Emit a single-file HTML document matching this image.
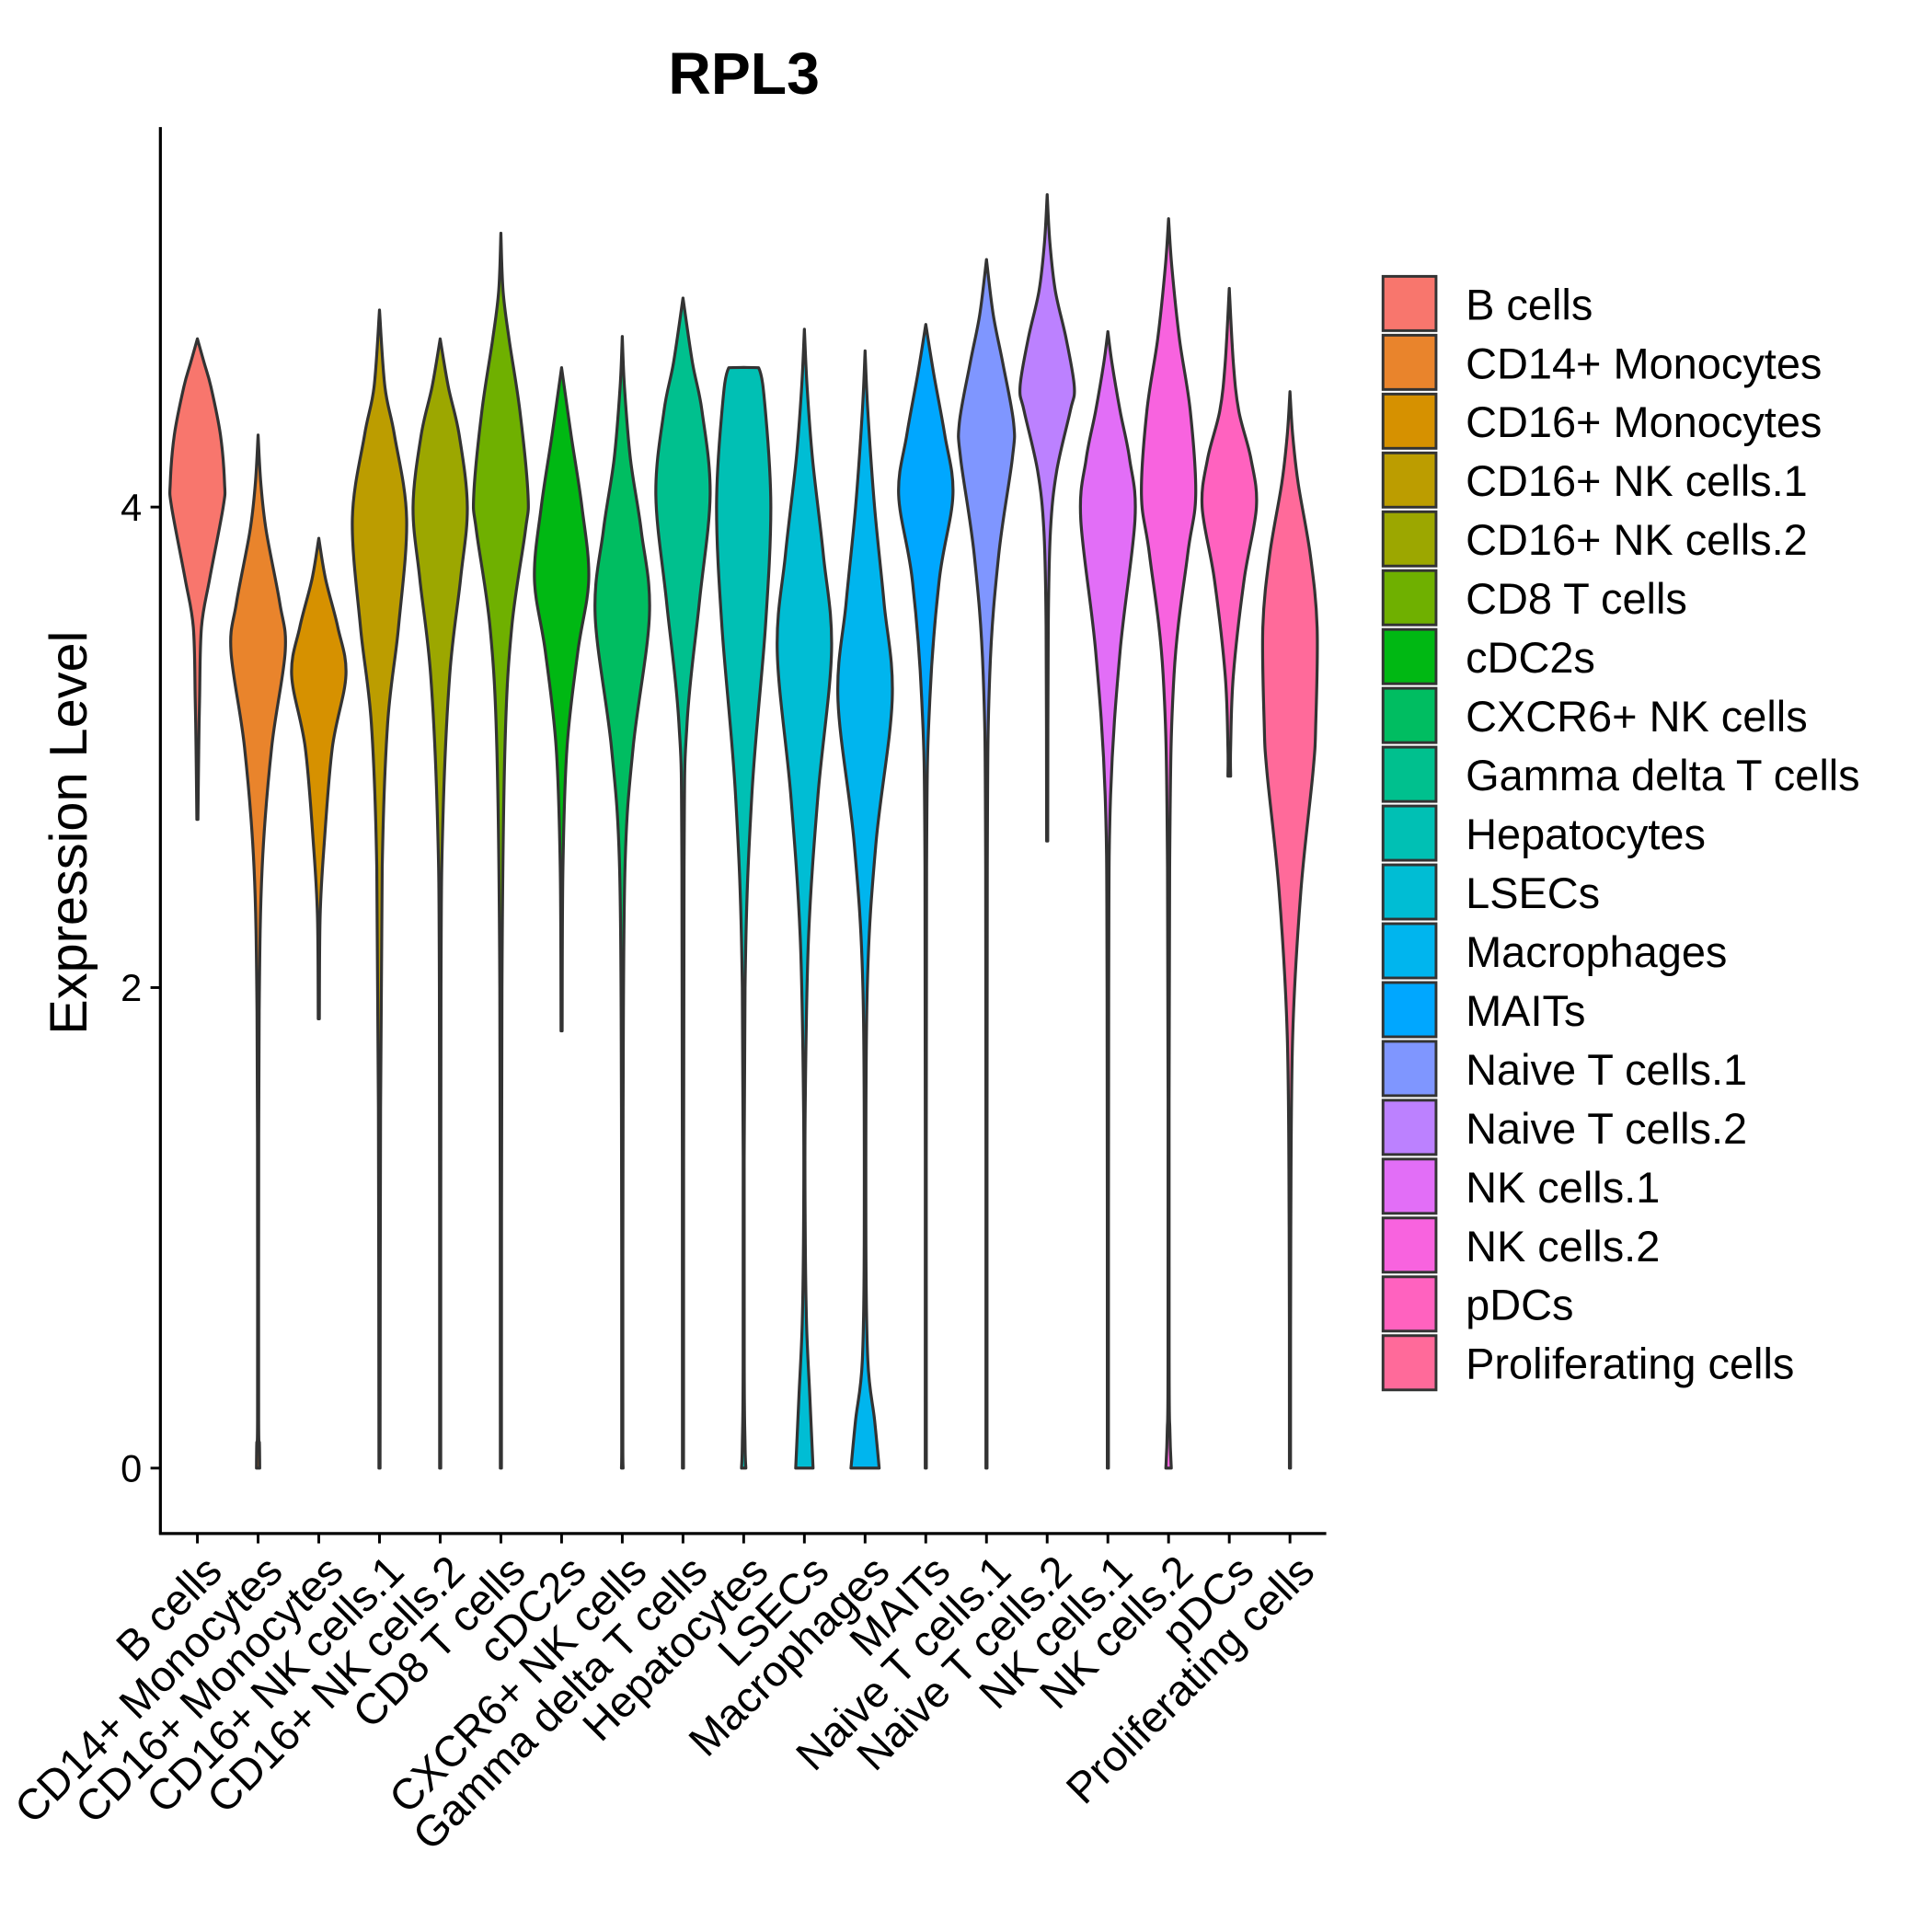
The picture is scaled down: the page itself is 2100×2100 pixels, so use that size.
<!DOCTYPE html>
<html><head><meta charset="utf-8"><style>html,body{margin:0;padding:0;background:#fff}svg{display:block}text{font-family:"Liberation Sans",Arial,sans-serif}</style></head>
<body>
<svg id="chart" width="2100" height="2100" viewBox="0 0 1566 1566" xmlns="http://www.w3.org/2000/svg">
<text x="603" y="76" font-size="48" font-weight="bold" text-anchor="middle">RPL3</text>
<text transform="translate(70,675) rotate(-90)" font-size="43" text-anchor="middle">Expression Level</text>
<g id="plot"></g>
<g id="legend"></g>
</svg>
<script>
const categories = ["B cells","CD14+ Monocytes","CD16+ Monocytes","CD16+ NK cells.1","CD16+ NK cells.2","CD8 T cells","cDC2s","CXCR6+ NK cells","Gamma delta T cells","Hepatocytes","LSECs","Macrophages","MAITs","Naive T cells.1","Naive T cells.2","NK cells.1","NK cells.2","pDCs","Proliferating cells"];
const colors = ["#F8766D","#E9842C","#D69100","#BC9D00","#9CA700","#6FB000","#00B813","#00BD61","#00C08E","#00C0B4","#00BDD4","#00B5EE","#00A7FF","#7F96FF","#BC81FF","#E26EF7","#F863DF","#FF62BF","#FF6A9A"];
const yTicks = [0,2,4];
// density profiles: [value, relative half-width]
const pB = [[2.7,0.02],[3.0,0.05],[3.2,0.08],[3.5,0.15],[3.7,0.45],[4.0,0.95],[4.1,1.0],[4.3,0.85],[4.5,0.5],[4.6,0.25],[4.7,0]];
const pCD14 = [[0,0.06],[0.1,0.05],[0.2,0.02],[1.0,0.02],[1.9,0.04],[2.5,0.15],[3.0,0.5],[3.4,1.0],[3.6,0.8],[3.9,0.3],[4.1,0.1],[4.3,0]];
const pCD16M = [[1.87,0.02],[2.3,0.05],[2.6,0.2],[3.0,0.5],[3.3,1.0],[3.5,0.7],[3.7,0.25],[3.87,0]];
const pNK1a = [[0,0.02],[1.5,0.04],[2.5,0.1],[3.1,0.3],[3.5,0.7],[3.95,1.0],[4.3,0.55],[4.5,0.2],[4.82,0]];
const pNK2a = [[0,0.02],[2.0,0.03],[2.7,0.1],[3.3,0.35],[3.7,0.75],[4.0,1.0],[4.3,0.7],[4.5,0.3],[4.7,0]];
const pCD8 = [[0,0.02],[2.0,0.04],[3.0,0.15],[3.5,0.4],[3.9,0.9],[4.05,1.0],[4.4,0.7],[4.7,0.3],[4.9,0.08],[5.14,0]];
const pDC2 = [[1.82,0.02],[2.5,0.05],[3.0,0.2],[3.4,0.6],[3.7,1.0],[4.0,0.75],[4.3,0.35],[4.58,0]];
const pCXCR6 = [[0,0.03],[0.1,0.02],[1.5,0.03],[2.5,0.1],[3.0,0.4],[3.55,1.0],[3.9,0.7],[4.2,0.3],[4.5,0.08],[4.71,0]];
const pGD = [[0,0.02],[2.5,0.04],[3.1,0.15],[3.6,0.6],[4.05,1.0],[4.4,0.7],[4.6,0.35],[4.87,0]];
const pHep = [[0,0.08],[0.1,0.05],[0.5,0.02],[2.0,0.05],[2.8,0.3],[3.5,0.8],[4.0,1.0],[4.4,0.8],[4.58,0.55],[4.581,0]];
const pLSEC = [[0,0.32],[0.3,0.2],[0.6,0.08],[1.0,0.03],[1.5,0.03],[2.2,0.15],[2.8,0.5],[3.4,1.0],[3.8,0.7],[4.2,0.3],[4.5,0.1],[4.74,0]];
const pMac = [[0,0.52],[0.2,0.35],[0.45,0.1],[1.0,0.03],[2.0,0.08],[2.6,0.4],[3.2,1.0],[3.6,0.7],[4.0,0.35],[4.4,0.1],[4.65,0]];
const pMAIT = [[0,0.02],[2.5,0.03],[3.2,0.15],[3.7,0.5],[4.05,1.0],[4.3,0.7],[4.55,0.3],[4.76,0]];
const pNT1 = [[0,0.02],[2.5,0.03],[3.3,0.12],[3.8,0.45],[4.2,0.95],[4.35,1.0],[4.6,0.6],[4.8,0.25],[5.03,0]];
const pNT2 = [[2.61,0.02],[3.5,0.04],[3.9,0.12],[4.15,0.35],[4.4,0.85],[4.5,1.0],[4.7,0.7],[4.9,0.3],[5.1,0.1],[5.3,0]];
const pNK1 = [[0,0.02],[2.0,0.03],[2.8,0.1],[3.4,0.45],[3.95,1.0],[4.2,0.8],[4.4,0.45],[4.6,0.15],[4.73,0]];
const pNK2 = [[0,0.1],[0.15,0.05],[0.5,0.02],[2.5,0.04],[3.3,0.2],[3.8,0.7],[4.05,1.0],[4.4,0.8],[4.7,0.4],[5.0,0.12],[5.2,0]];
const pPDC = [[2.88,0.05],[3.0,0.05],[3.3,0.15],[3.7,0.55],[4.0,1.0],[4.2,0.8],[4.4,0.35],[4.6,0.15],[4.91,0]];
const pProl = [[0,0.02],[1.0,0.03],[1.8,0.1],[2.4,0.4],[2.9,0.85],[3.1,0.95],[3.5,1.0],[3.8,0.75],[4.1,0.3],[4.3,0.1],[4.48,0]];
const profiles = [pB,pCD14,pCD16M,pNK1a,pNK2a,pCD8,pDC2,pCXCR6,pGD,pHep,pLSEC,pMac,pMAIT,pNT1,pNT2,pNK1,pNK2,pPDC,pProl];

const NS="http://www.w3.org/2000/svg";
const X0=130, X1=1075, Y0=103, Y1=1243;
function xScale(i){return 160+i*49.2;}
function yScale(v){return 1190-v*194.75;}
const HALF=22;
const plot=document.getElementById('plot');
function mk(tag,attrs,parent){const e=document.createElementNS(NS,tag);for(const k in attrs)e.setAttribute(k,attrs[k]);(parent||plot).appendChild(e);return e;}

categories.forEach((c,i)=>{
  const prof=profiles[i], cx=xScale(i);
  const yMin=yScale(prof[prof.length-1][0]), yMax=yScale(prof[0][0]);
  const cl=y=>Math.min(yMax,Math.max(yMin,y));
  const right=prof.map(p=>[cx+p[1]*HALF,yScale(p[0])]);
  const left=prof.slice().reverse().map(p=>[cx-p[1]*HALF,yScale(p[0])]);
  function sm(pts){let d='';for(let k=0;k<pts.length-1;k++){const p0=pts[Math.max(0,k-1)],p1=pts[k],p2=pts[k+1],p3=pts[Math.min(pts.length-1,k+2)];
    const c1=[p1[0]+(p2[0]-p0[0])/6,cl(p1[1]+(p2[1]-p0[1])/6)],c2=[p2[0]-(p3[0]-p1[0])/6,cl(p2[1]-(p3[1]-p1[1])/6)];
    d+=` C${c1[0].toFixed(2)},${c1[1].toFixed(2)} ${c2[0].toFixed(2)},${c2[1].toFixed(2)} ${p2[0].toFixed(2)},${p2[1].toFixed(2)}`;}return d;}
  const d=`M${right[0][0]},${right[0][1]}`+sm(right)+` L${left[0][0]},${left[0][1]}`+sm(left)+' Z';
  const el=mk('path',{d:d,fill:colors[i],stroke:'#333333','stroke-width':2.4,'stroke-linejoin':'round'});
  
  
  const t=mk('line',{x1:cx,x2:cx,y1:Y1,y2:Y1+8,stroke:'#000','stroke-width':2.2});
  
  
  const lb=mk('text',{transform:`translate(${cx+4},${Y1+15}) rotate(-45)`,'font-size':'35','text-anchor':'end','dominant-baseline':'hanging'});
  lb.textContent=c;
  
  
});
yTicks.forEach(v=>{
  const y=yScale(v);
  const t=mk('line',{x1:X0-8,x2:X0,y1:y,y2:y,stroke:'#000','stroke-width':2.2});
  
  
  const lb=mk('text',{x:X0-15,y:y+11,'font-size':'31','text-anchor':'end'});
  lb.textContent=v;
  
  
});
const ya=mk('line',{x1:X0,x2:X0,y1:Y0,y2:Y1+1,stroke:'#000','stroke-width':2.4});


const xa=mk('line',{x1:X0-1,x2:X1,y1:Y1,y2:Y1,stroke:'#000','stroke-width':2.4});



const lg=document.getElementById('legend');
categories.forEach((c,i)=>{
  const y=224+i*47.7;
  const r=mk('rect',{x:1121,y:y,width:43,height:44,fill:colors[i],stroke:'#333333','stroke-width':2.2},lg);
  
  
  const t=mk('text',{x:1188,y:y+35,'font-size':'35'},lg);
  t.textContent=c;
  
  
});
</script>
</body></html>
